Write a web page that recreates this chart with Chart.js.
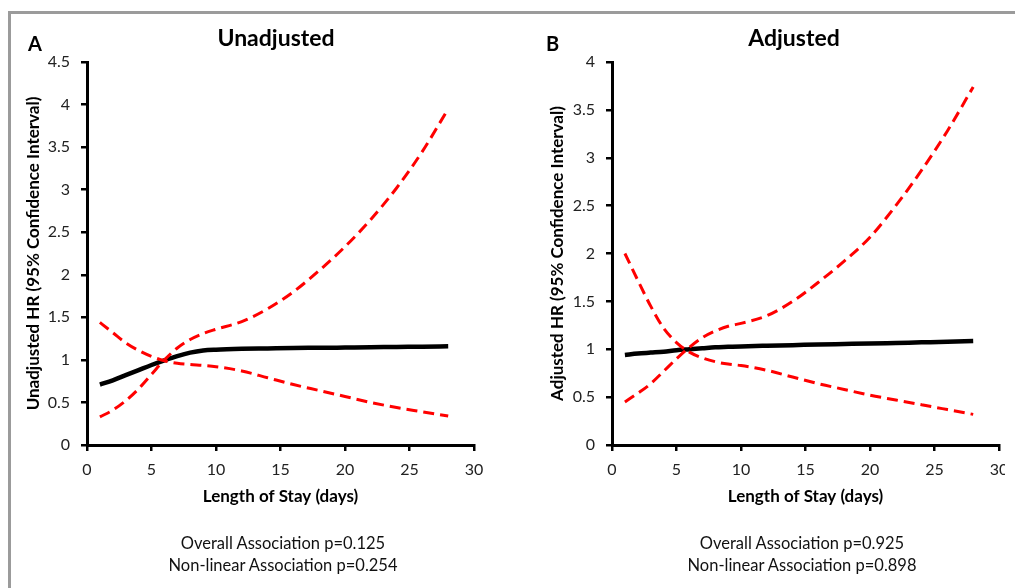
<!DOCTYPE html>
<html>
<head>
<meta charset="utf-8">
<script src="https://cdn.jsdelivr.net/npm/chart.js@4.4.1/dist/chart.umd.min.js"></script>
<style>
    html, body { margin: 0; padding: 0; background: #fff; }
    body { width: 1015px; height: 588px; position: relative; overflow: hidden; font-family: Lato, "Open Sans", sans-serif; }
    .frame { position: absolute; left: 8px; top: 11px; width: 1200px; height: 800px; border-top: 3px solid #9b9b9b; border-left: 3px solid #9b9b9b; }
    .box { position: absolute; top: 0; height: 588px; overflow: hidden; }
    canvas { position: absolute; top: 0; left: 0; }
    .txt { position: absolute; transform: translate(-50%, -50%); white-space: nowrap; color: #000; }
    .panel { font-weight: bold; font-size: 20px; transform: translate(0, -50%); }
    .ttl { font-weight: bold; font-size: 23px; }
    .note { font-size: 16.5px; line-height: 22px; text-align: center; color: #111; }
</style>
</head>
<body>
<div class="frame"></div>
<div class="box" style="left:0; width:507px"><canvas id="chart-a" width="507" height="588"></canvas></div>
<div class="box" style="left:507px; width:498px"><canvas id="chart-b" width="525" height="588"></canvas></div>

<div class="txt panel" style="left:28px; top:43px">A</div>
<div class="txt ttl" style="left:276px; top:37px">Unadjusted</div>
<div class="txt panel" style="left:546px; top:43px">B</div>
<div class="txt ttl" style="left:794px; top:37px">Adjusted</div>
<div class="txt note" style="left:283px; top:554px">Overall Association p=0.125<br>Non-linear Association p=0.254</div>
<div class="txt note" style="left:802px; top:554px">Overall Association p=0.925<br>Non-linear Association p=0.898</div>

<script>
// length of stay (days)
const days = [1, 2, 3, 4, 5, 6, 7, 8, 9, 10, 12, 14, 16, 18, 20, 22, 24, 26, 28];

// panel A - unadjusted
const hrA = [0.71, 0.76, 0.82, 0.88, 0.94, 0.995, 1.045, 1.085, 1.11, 1.12, 1.13, 1.135, 1.14, 1.142, 1.145, 1.148, 1.152, 1.155, 1.16];
const upperA = [0.33, 0.41, 0.52, 0.66, 0.83, 1.0, 1.14, 1.24, 1.31, 1.36, 1.45, 1.6, 1.8, 2.05, 2.33, 2.65, 3.02, 3.45, 3.95];
const lowerA = [1.44, 1.32, 1.2, 1.11, 1.04, 0.99, 0.96, 0.945, 0.935, 0.92, 0.87, 0.79, 0.71, 0.64, 0.57, 0.5, 0.44, 0.39, 0.34];

// panel B - adjusted
const hrB = [0.94, 0.955, 0.965, 0.975, 0.99, 1.0, 1.01, 1.02, 1.025, 1.03, 1.037, 1.043, 1.05, 1.055, 1.06, 1.066, 1.072, 1.078, 1.085];
const upperB = [0.45, 0.54, 0.64, 0.77, 0.9, 1.02, 1.12, 1.19, 1.24, 1.27, 1.35, 1.5, 1.7, 1.92, 2.17, 2.5, 2.87, 3.28, 3.74];
const lowerB = [2.0, 1.72, 1.45, 1.22, 1.07, 0.97, 0.91, 0.87, 0.845, 0.83, 0.78, 0.71, 0.64, 0.58, 0.52, 0.47, 0.42, 0.37, 0.32];

// axis ticks
const xTicks = [0, 5, 10, 15, 20, 25, 30];
const yTicksA = [0, 0.5, 1, 1.5, 2, 2.5, 3, 3.5, 4, 4.5];
const yTicksB = [0, 0.5, 1, 1.5, 2, 2.5, 3, 3.5, 4];

const FONT = "Lato, 'Open Sans', sans-serif";

function toPoints(ys) {
    return days.map((d, i) => ({ x: d, y: ys[i] }));
}

function lineSet(ys, dashed) {
    return {
        data: toPoints(ys),
        borderColor: dashed ? "#ff0000" : "#000000",
        borderWidth: dashed ? 3 : 4.5,
        borderDash: dashed ? [11, 6] : [],
        borderCapStyle: "butt",
        cubicInterpolationMode: "monotone",
        pointRadius: 0,
        fill: false,
    };
}

function makeChart(id, hr, upper, lower, yTicks, yTitle, yWidth, titlePad) {
    const axisGrid = { drawOnChartArea: false, drawTicks: true, tickLength: 6, color: "#000", lineWidth: 2.5 };
    return new Chart(document.getElementById(id), {
        type: "line",
        data: {
            datasets: [lineSet(upper, true), lineSet(lower, true), lineSet(hr, false)],
        },
        options: {
            responsive: false,
            animation: false,
            devicePixelRatio: 1,
            layout: {
                autoPadding: false,
                padding: { left: 0, top: 62, right: 33, bottom: 73 },
            },
            plugins: {
                legend: { display: false },
                tooltip: { enabled: false },
                title: { display: false },
            },
            scales: {
                x: {
                    type: "linear",
                    min: 0,
                    max: 30,
                    afterBuildTicks: (s) => { s.ticks = xTicks.map((v) => ({ value: v })); },
                    afterFit: (s) => { s.height = 70; },
                    grid: axisGrid,
                    border: { display: true, color: "#000", width: 3 },
                    ticks: { color: "#222", padding: 9, font: { family: FONT, size: 16 }, callback: (v) => String(v), maxRotation: 0 },
                    title: { display: true, text: "Length of Stay (days)", color: "#000", padding: { top: 0, bottom: 8 }, font: { family: FONT, size: 17, weight: "bold" } },
                },
                y: {
                    type: "linear",
                    min: 0,
                    max: yTicks[yTicks.length - 1],
                    afterBuildTicks: (s) => { s.ticks = yTicks.map((v) => ({ value: v })); },
                    afterFit: (s) => { s.width = yWidth; },
                    grid: axisGrid,
                    border: { display: true, color: "#000", width: 3 },
                    ticks: { color: "#222", padding: 11, font: { family: FONT, size: 16 }, callback: (v) => String(v) },
                    title: { display: true, text: yTitle, color: "#000", padding: { top: titlePad, bottom: 0 }, font: { family: FONT, size: 17, weight: "bold" } },
                },
            },
        },
    });
}

makeChart("chart-a", hrA, upperA, lowerA, yTicksA, "Unadjusted HR (95% Confidence Interval)", 87, 23);
makeChart("chart-b", hrB, upperB, lowerB, yTicksB, "Adjusted HR (95% Confidence Interval)", 105, 40);
</script>
</body>
</html>
